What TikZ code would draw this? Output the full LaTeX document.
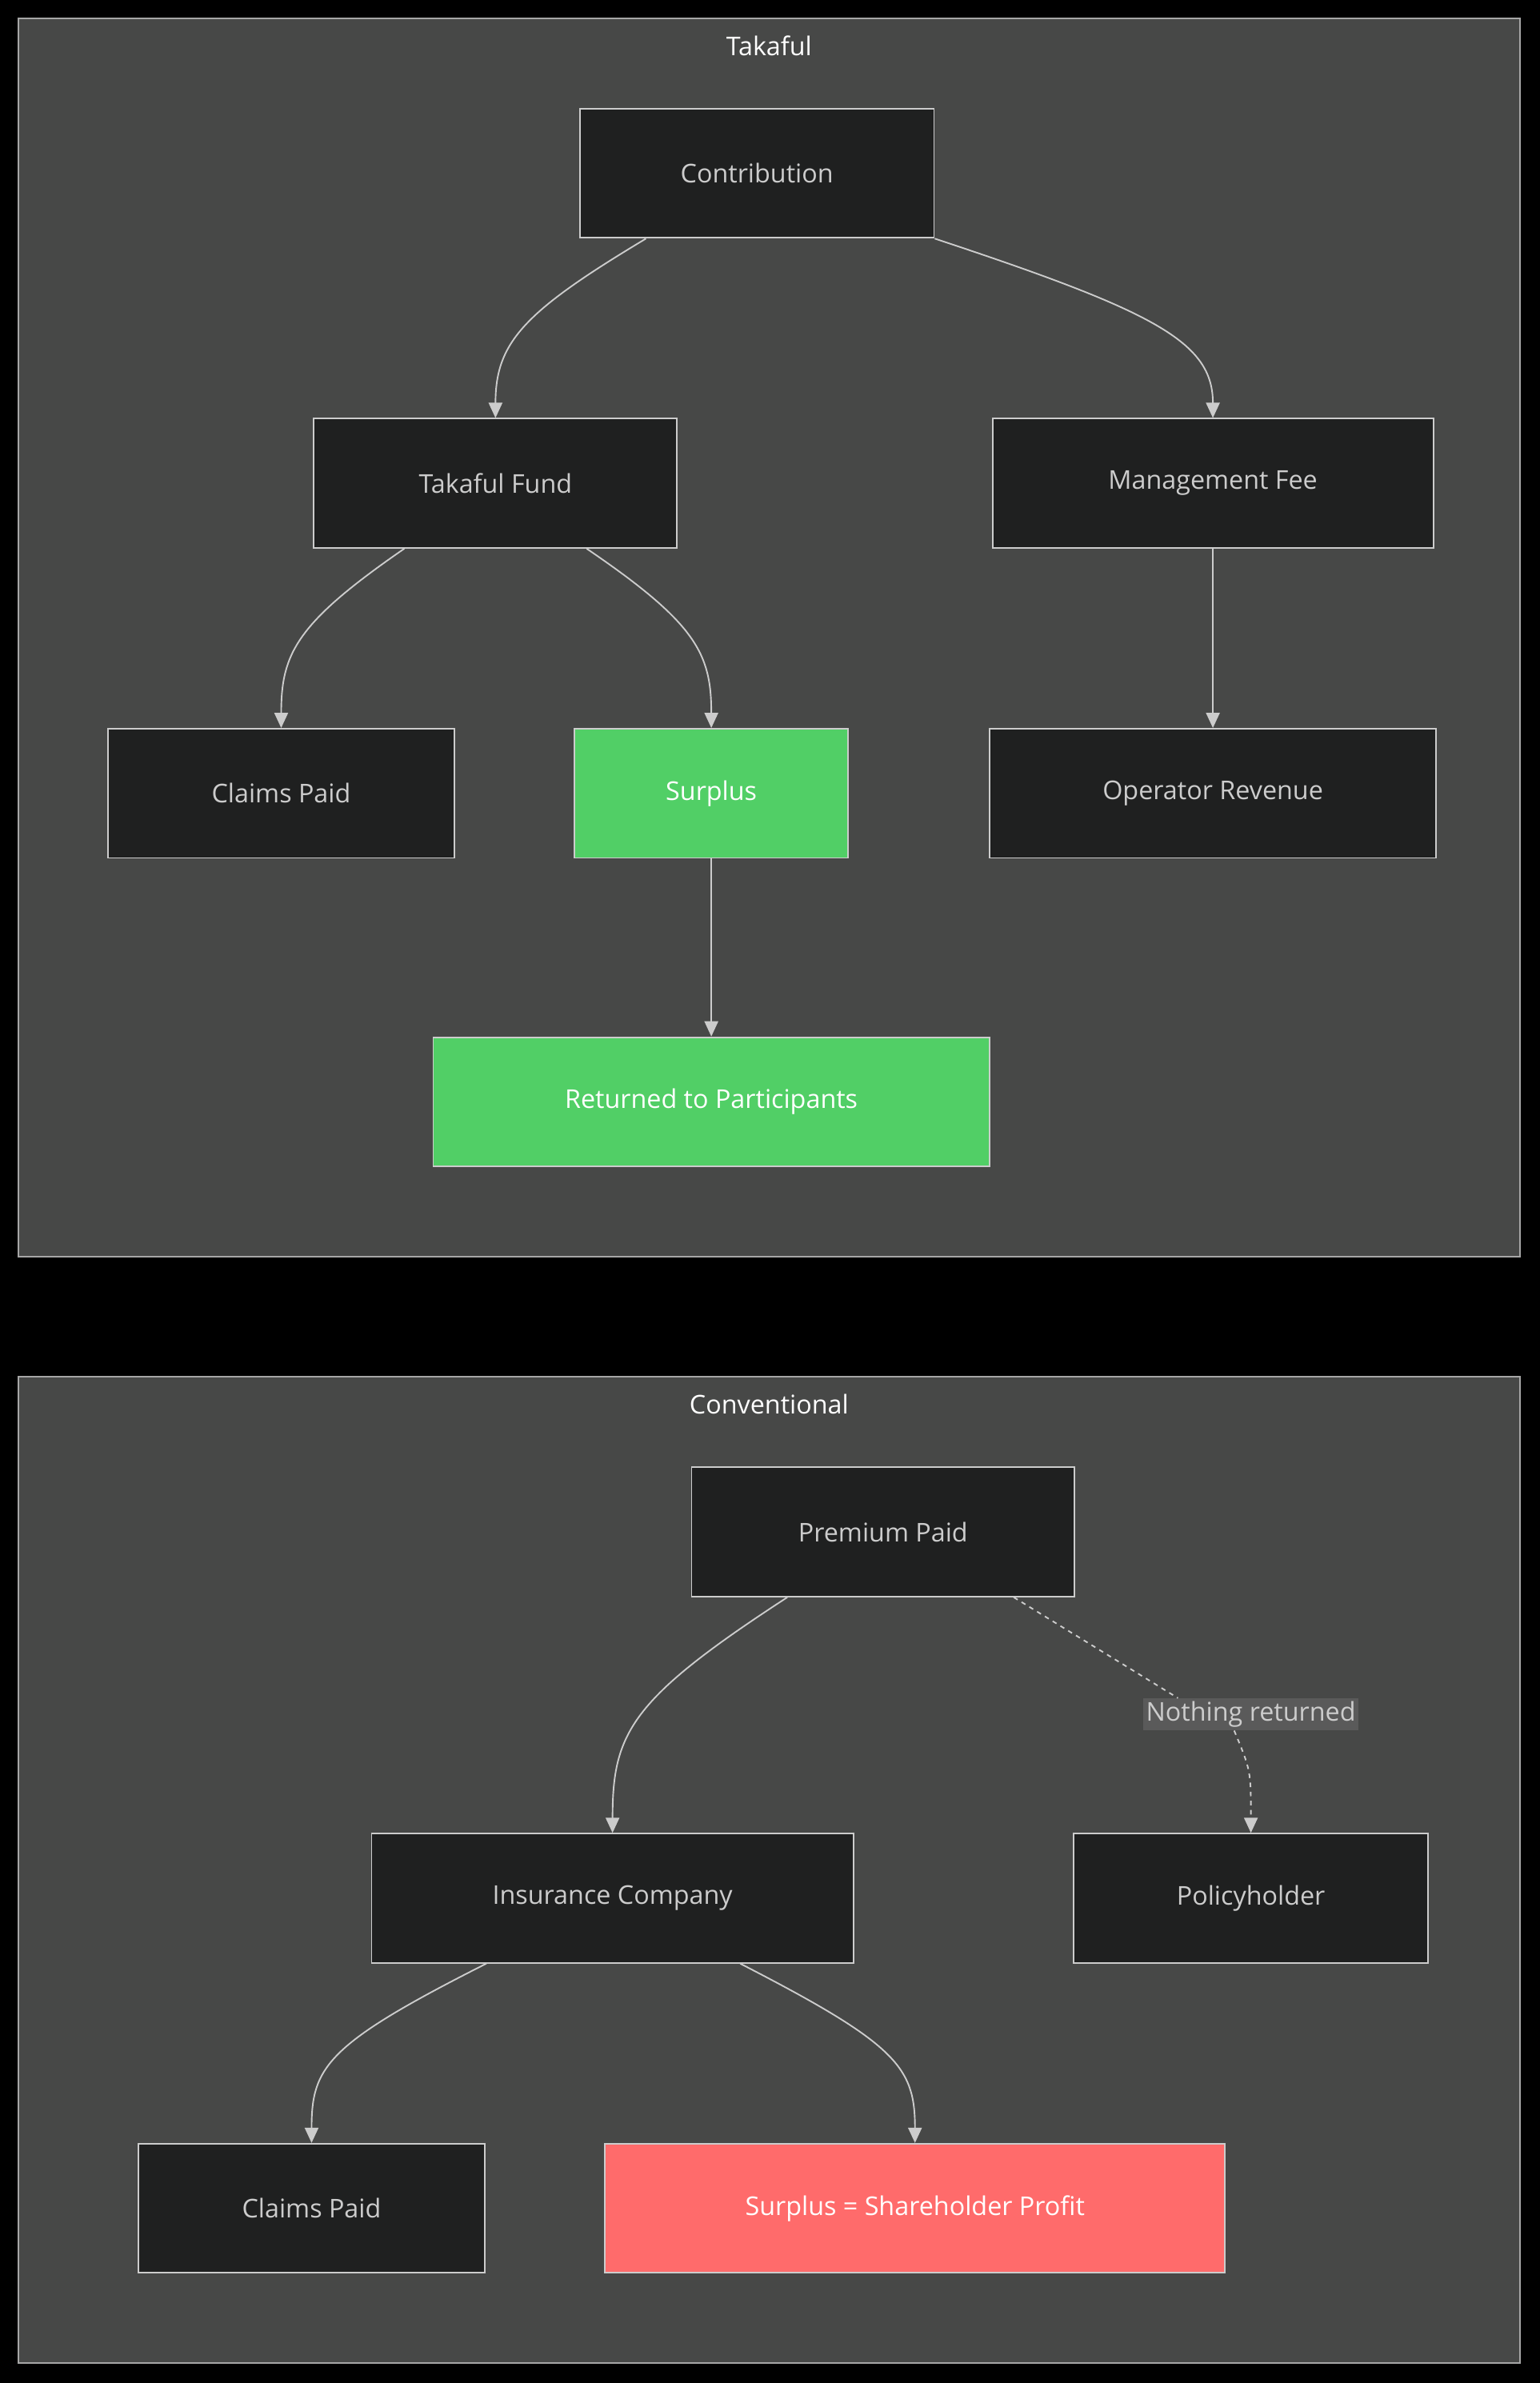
\documentclass[tikz,border=0pt]{standalone}
\usepackage{fontspec}
\setmainfont{Open Sans}
\usetikzlibrary{arrows.meta}
\definecolor{clus}{HTML}{474847}
\definecolor{nfill}{HTML}{1F2020}
\definecolor{ntext}{HTML}{CCCCCC}
\definecolor{grn}{HTML}{51CF66}
\definecolor{rd}{HTML}{FF6B6B}
\definecolor{lbl}{HTML}{5A5A5A}
\begin{document}
\begin{tikzpicture}[x=1pt,y=-1pt,
 box/.style={draw=ntext,line width=1pt,fill=nfill,text=ntext,minimum height=85pt,inner sep=0pt,font=\fontsize{17}{20}\selectfont},
 gbox/.style={box,fill=grn,text=white},
 rbox/.style={box,fill=rd,text=white},
 clu/.style={draw=gray!70,line width=1pt,fill=clus},
 ttl/.style={text=white,font=\fontsize{17}{20}\selectfont},
 ar/.style={draw=ntext,line width=1pt,-{Triangle[length=10pt,width=9pt]}}]
\fill[black] (0,0) rectangle (1013,1568);
\useasboundingbox (0,0) rectangle (1013,1568);
\draw[clu] (12,12) rectangle (1000,827);
\node[ttl] (t1) at (506,30) {Takaful};
\draw[clu] (12,906) rectangle (1000,1555);
\node[ttl] (t2) at (506,924) {Conventional};
\node[box,minimum width=233pt] (c) at (498,114) {Contribution};
\node[box,minimum width=239pt] (tf) at (326,318) {Takaful Fund};
\node[box,minimum width=290pt] (mf) at (798,318) {Management Fee};
\node[box,minimum width=228pt] (cp) at (185,522) {Claims Paid};
\node[gbox,minimum width=180pt] (s) at (468,522) {Surplus};
\node[box,minimum width=294pt] (or) at (798,522) {Operator Revenue};
\node[gbox,minimum width=366pt] (rp) at (468,725) {Returned to Participants};
\node[box,minimum width=252pt] (pp) at (581,1008) {Premium Paid};
\node[box,minimum width=317pt] (ic) at (403,1249) {Insurance Company};
\node[box,minimum width=233pt] (ph) at (823,1249) {Policyholder};
\node[box,minimum width=228pt] (cp2) at (205,1453) {Claims Paid};
\node[rbox,minimum width=408pt] (sh) at (602,1453) {Surplus = Shareholder Profit};
\draw[ar] (c.south -| 425,0) .. controls (345,205) and (326,225) .. (tf.north);
\draw[ar] (c.south east) .. controls (760,205) and (798,225) .. (mf.north);
\draw[ar] (tf.south -| 266,0) .. controls (195,410) and (185,430) .. (cp.north);
\draw[ar] (tf.south -| 386,0) .. controls (458,410) and (468,430) .. (s.north);
\draw[ar] (mf) -- (or);
\draw[ar] (s) -- (rp);
\draw[ar] (pp.south -| 518,0) .. controls (415,1118) and (403,1140) .. (ic.north);
\draw[ar] (ic.south -| 320,0) .. controls (215,1345) and (205,1360) .. (cp2.north);
\draw[ar] (ic.south -| 487,0) .. controls (590,1345) and (602,1360) .. (sh.north);
\node[fill=lbl,text=ntext,inner sep=2pt,font=\fontsize{17}{20}\selectfont] (nr) at (823,1128) {Nothing returned};
\draw[draw=ntext,line width=1pt,dashed,dash pattern=on 3pt off 3pt] (pp.south -| 667,0) -- (nr.north west -| 775,0);
\draw[ar,dash pattern=on 3pt off 3pt] (nr.south -| 812,0) .. controls (823,1165) .. (ph.north);
\end{tikzpicture}
\end{document}
